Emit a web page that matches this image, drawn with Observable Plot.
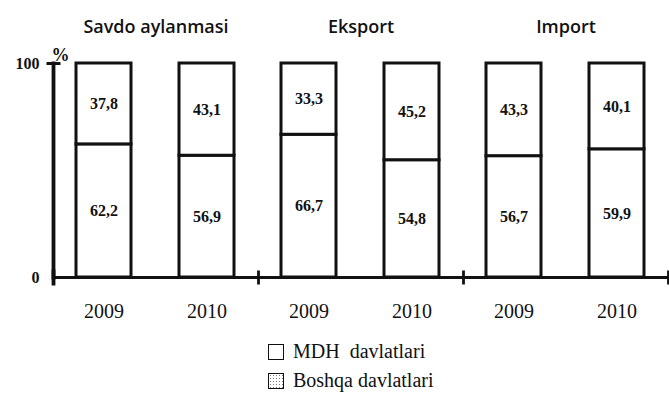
<!DOCTYPE html>
<html>
<head>
<meta charset="utf-8">
<script src="https://cdn.jsdelivr.net/npm/d3@7"></script>
<script src="https://cdn.jsdelivr.net/npm/@observablehq/plot@0.6"></script>
<style>
  html, body { margin: 0; padding: 0; background: #fff; }
  #wrap { width: 669px; }
  #legend { padding-top: 7px; padding-left: 268px; font-family: "Liberation Serif", serif; font-size: 20px; color: #111; }
  .row { display: flex; align-items: center; height: 29px; }
  .box { width: 14px; height: 14px; border: 1.6px solid #111; margin-right: 9px; background: #fff; box-sizing: content-box; }
  .box.dots { background-image: radial-gradient(#777 0.7px, transparent 0.9px); background-size: 3px 3px; }
</style>
</head>
<body>
<div id="wrap">
  <div id="chart"></div>
  <div id="legend">
    <div class="row"><div class="box"></div><span>MDH&nbsp; davlatlari</span></div>
    <div class="row"><div class="box dots"></div><span>Boshqa davlatlari</span></div>
  </div>
</div>
<script>
const groups = ["Savdo aylanmasi", "Eksport", "Import"];
const years = ["2009", "2010"];
const seriesNames = ["Boshqa davlatlari", "MDH davlatlari"];
// values per bar, in order: group × year
const boshqa = [62.2, 56.9, 66.7, 54.8, 56.7, 59.9]; // lower segment
const mdh = [37.8, 43.1, 33.3, 45.2, 43.3, 40.1];    // upper segment
const yTicks = [0, 100];

const rows = [];
groups.forEach((g, gi) => {
  years.forEach((yr, yi) => {
    const i = gi * years.length + yi;
    rows.push({group: g, year: yr, series: seriesNames[0], value: boshqa[i]});
    rows.push({group: g, year: yr, series: seriesNames[1], value: mdh[i]});
  });
});

const vline = {draw(ctx, size) { const r = Math.sqrt(size / Math.PI); ctx.moveTo(0, -r); ctx.lineTo(0, r); }};
const hline = {draw(ctx, size) { const r = Math.sqrt(size / Math.PI); ctx.moveTo(-r, 0); ctx.lineTo(r, 0); }};
const fmt = v => v.toFixed(1).replace(".", ",");

const chart = Plot.plot({
  width: 669,
  height: 330,
  marginLeft: 52,
  marginRight: 1,
  marginTop: 63,
  marginBottom: 53,
  style: {background: "#fff", color: "#111", overflow: "visible"},
  fx: {domain: groups, padding: 0, axis: null},
  x: {domain: years, paddingInner: 0.466, paddingOuter: 0.228, axis: null},
  y: {domain: [0, 100], axis: null},
  marks: [
    Plot.axisFx({anchor: "top", tickSize: 0, tickPadding: 31, label: null,
      fontSize: 18, fontFamily: "Open Sans", fontWeight: 600}),
    Plot.axisX({anchor: "bottom", tickSize: 0, tickPadding: 26, label: null,
      fontSize: 20, fontFamily: "Liberation Serif"}),
    Plot.axisY({ticks: yTicks, tickSize: 0, tickPadding: 14, label: null,
      fontSize: 16, fontWeight: "bold", fontFamily: "Liberation Serif"}),
    Plot.barY(rows, {fx: "group", x: "year", y: "value", fill: "white", stroke: "#111", strokeWidth: 3}),
    Plot.text(rows, Plot.stackY({fx: "group", x: "year", y: "value", text: d => fmt(d.value),
      fontSize: 16, fontWeight: "bold", fontFamily: "Liberation Serif", fill: "#111"})),
    Plot.ruleY([0], {stroke: "#111", strokeWidth: 2.8}),
    Plot.frame({anchor: "left", facetAnchor: "left", stroke: "#111", strokeWidth: 3.8}),
    Plot.dot([0], {frameAnchor: "bottom-right", symbol: vline, r: 7, stroke: "#111", strokeWidth: 2.8}),
    Plot.dot([0], {frameAnchor: "bottom-left", facetAnchor: "left", symbol: vline, r: 8, stroke: "#111", strokeWidth: 3.8}),
    Plot.dot([0], {frameAnchor: "top-left", facetAnchor: "left", symbol: hline, r: 7, stroke: "#111", strokeWidth: 3}),
    Plot.text(["%"], {frameAnchor: "top-left", facetAnchor: "left", dx: -2, dy: -15,
      fontSize: 18, fontWeight: "bold", fontFamily: "Liberation Serif", fill: "#111"})
  ]
});
document.getElementById("chart").appendChild(chart);
</script>
</body>
</html>
